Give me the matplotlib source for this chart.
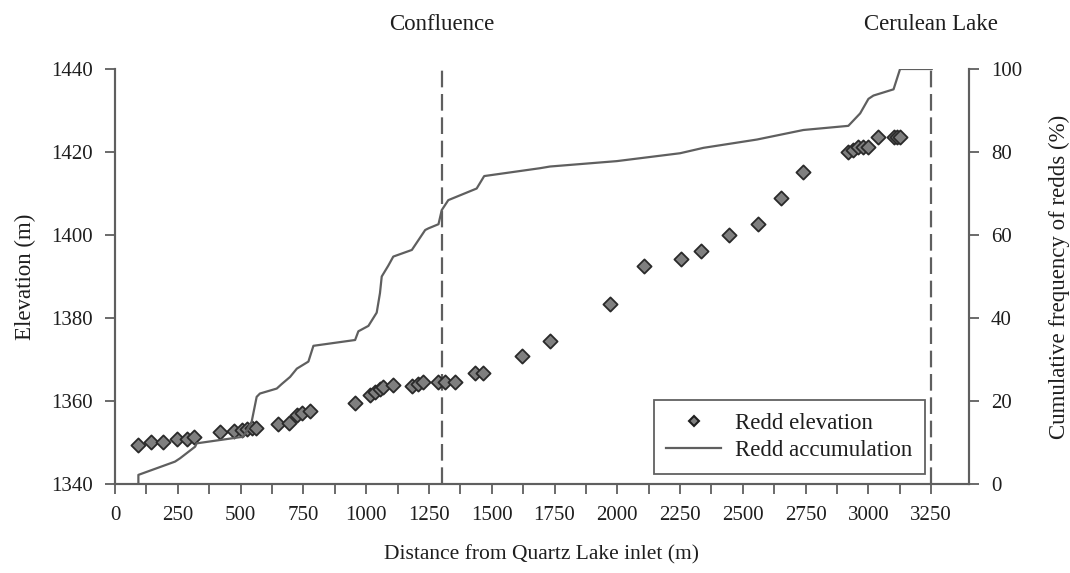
import matplotlib
matplotlib.use("Agg")
import matplotlib.pyplot as plt
from matplotlib.lines import Line2D
from matplotlib.ticker import FixedLocator

plt.rcParams['font.family'] = ['Liberation Serif', 'DejaVu Serif']

# Redd elevations
redd_dist = [93, 142, 192, 248, 286, 316, 418, 475, 505, 524, 544, 560, 648, 694, 724, 745, 777,
             956, 1016, 1035, 1055, 1069, 1108, 1182, 1208, 1228, 1288, 1314, 1354, 1434, 1464,
             1620, 1732, 1969, 2107, 2253, 2333, 2443, 2562, 2651, 2741,
             2920, 2940, 2960, 2980, 3000, 3040, 3100, 3113, 3126]
redd_elev = [1349.4, 1350.2, 1350.2, 1350.8, 1350.9, 1351.3, 1352.5, 1352.8, 1353.1, 1353.3, 1353.4, 1353.4,
             1354.4, 1354.6, 1356.7, 1357.0, 1357.5,
             1359.6, 1361.4, 1362.2, 1363.0, 1363.4, 1363.8, 1363.6, 1364.2, 1364.6, 1364.6, 1364.6, 1364.6,
             1366.8, 1366.8, 1370.8, 1374.5, 1383.3, 1392.5, 1394.1, 1396.2, 1400.1, 1402.7, 1408.8, 1415.2,
             1420.0, 1420.6, 1421.1, 1421.1, 1421.1, 1423.7, 1423.7, 1423.7, 1423.7]

# Cumulative redd accumulation (%)
cum_dist = [93, 93, 239, 259, 319, 325, 511, 544, 564, 577, 644, 664, 697, 724, 770, 790, 956, 969,
            1009, 1042, 1055, 1062, 1088, 1108, 1182, 1235, 1248, 1288, 1301, 1327, 1440, 1470,
            1693, 1732, 1998, 2250, 2343, 2556, 2741, 2920, 2967, 3000, 3020, 3100, 3126, 3252]
cum_pct = [0, 2.2, 5.4, 6.2, 9.0, 9.8, 11.4, 15.0, 21.0, 21.8, 23.0, 24.1, 25.8, 27.8, 29.5, 33.3, 34.7,
           36.8, 38.1, 41.3, 46.0, 50.0, 52.6, 54.8, 56.4, 61.2, 61.6, 62.6, 66.0, 68.4, 71.2, 74.2,
           76.1, 76.5, 77.8, 79.7, 81.0, 83.0, 85.3, 86.3, 89.3, 92.8, 93.6, 95.1, 100, 100]

x_ticks = list(range(0, 3251, 250))
x_minor_ticks = list(range(125, 3250, 250))
y_ticks = [1340, 1360, 1380, 1400, 1420, 1440]
y2_ticks = [0, 20, 40, 60, 80, 100]
confluence_x = 1300
lake_x = 3250

fig = plt.figure(figsize=(10.7, 5.73), dpi=100)
ax = fig.add_axes([0.1075, 0.1553, 0.798, 0.7243])
ax2 = ax.twinx()

ax.set_xlim(0, 3400)
ax.set_ylim(1340, 1440)
ax2.set_ylim(0, 100)

dark = '#3a3a3a'
lc = '#5f5f5f'
txt = '#1e1e1e'

ax.scatter(redd_dist, redd_elev, marker='D', s=52, facecolor='#7f7f7f', edgecolor='#2a2a2a',
           linewidth=1.3, zorder=3)
ax2.plot(cum_dist, cum_pct, color=lc, lw=1.6, zorder=2)
ax2.plot([lake_x, lake_x], [0, 100], color=lc, lw=1.6, dashes=(7.5, 3))
ax.plot([confluence_x, confluence_x], [1340, 1440], color=lc, lw=1.6, dashes=(7.5, 3))

for a in (ax, ax2):
    a.spines['top'].set_visible(False)
    for s in a.spines.values():
        s.set_color(lc)
        s.set_linewidth(1.5)
    a.tick_params(which='both', direction='out', length=7, width=1.3, color=lc, labelsize=15,
                  labelcolor=txt)

ax.set_xticks(x_ticks)
ax.xaxis.set_minor_locator(FixedLocator(x_minor_ticks))
ax.set_yticks(y_ticks)
ax2.set_yticks(y2_ticks)
ax.tick_params(axis='x', which='major', pad=9)
ax.tick_params(axis='y', pad=9)
ax2.tick_params(axis='y', pad=9)

ax.set_xlabel('Distance from Quartz Lake inlet (m)', fontsize=15.5, color=txt, labelpad=14)
ax.set_ylabel('Elevation (m)', fontsize=16.5, color=txt, labelpad=11)
ax2.set_ylabel('Cumulative frequency of redds (%)', fontsize=16.5, color=txt, labelpad=19)

ax.text(confluence_x, 1450.8, 'Confluence', ha='center', va='center', fontsize=16.5, color=txt)
ax.text(lake_x, 1450.8, 'Cerulean Lake', ha='center', va='center', fontsize=16.5, color=txt)

handles = [Line2D([], [], marker='D', linestyle='none', markersize=5, markerfacecolor='#7f7f7f',
                  markeredgecolor='#1e1e1e', markeredgewidth=1.5),
           Line2D([], [], color=lc, lw=1.6)]
leg = ax.legend(handles, ['Redd elevation', 'Redd accumulation'], loc='lower right',
                bbox_to_anchor=(0.9485, 0.024), borderaxespad=0, fontsize=16.5, frameon=True,
                fancybox=False, edgecolor=dark, borderpad=0.55, handlelength=2.4,
                handletextpad=0.6, labelspacing=0.3)
leg.get_frame().set_linewidth(1.3)
for t in leg.get_texts():
    t.set_color(txt)

fig.savefig('out.png', dpi=100)
